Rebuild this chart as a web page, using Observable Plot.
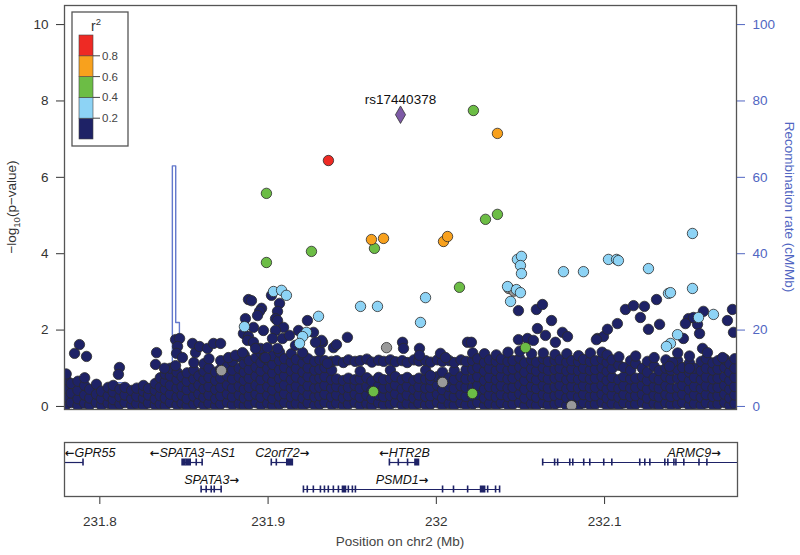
<!DOCTYPE html>
<html><head><meta charset="utf-8">
<script src="https://cdn.jsdelivr.net/npm/d3@7"></script>
<script src="https://cdn.jsdelivr.net/npm/@observablehq/plot@0.6"></script>
<style>
body{margin:0;background:#fff;}
#wrap{position:relative;width:800px;height:555px;font-family:Arial,"Liberation Sans",Helvetica,sans-serif;}
#wrap svg{position:absolute;left:0;overflow:visible;}
</style></head><body><div id="wrap"></div>
<script>
// ---------- DATA (positions in kb on chr2, values as -log10 p) ----------
const windowKb = [231779, 232179];
const logpTicks = [0, 2, 4, 6, 8, 10];
const posTicks = [231.8, 231.9, 232, 232.1];
const r2Breaks = [0.2, 0.4, 0.6, 0.8];
const r2Colors = ["#1e2266", "#8dd3f5", "#6cbd45", "#f8a11d", "#ee2a24"];
const grayColor = "#9a9a9a";
const leadColor = "#7d5aa6";

const leadSnp = [{name: "rs17440378", kb: 231979, logp: 7.64}];
const redPts = [[231936.1, 6.44]];
const orangePts = [[232036.7, 7.15], [231961.7, 4.37], [231968.9, 4.40], [232004.6, 4.32], [232007, 4.45]];
const greenPts = [[231899.2, 5.58], [232022.4, 7.75], [232029.6, 4.90], [232036.7, 5.03], [231899.2, 3.77],
  [231926, 4.06], [231963.5, 4.14], [232014.1, 3.12], [232053.4, 1.54], [232021.8, 0.34], [231962.9, 0.39]];
const lightbluePts = [[231903.4, 3.01], [231908.2, 3.04], [231911.1, 2.91], [231930.2, 2.36], [231886.1, 2.09],
  [231923, 1.94], [231920.7, 1.83], [231918.9, 1.65], [231955.2, 2.62], [231965.3, 2.62], [231990.9, 2.2],
  [231993.9, 2.85], [232048.6, 3.85], [232051, 3.93], [232050.4, 3.69], [232051, 3.48], [232042.7, 3.14],
  [232048, 3.06], [232050.4, 2.98], [232044.5, 2.75], [232076, 3.53], [232087.9, 3.53], [232102.8, 3.85],
  [232107.6, 3.85], [232108.7, 3.82], [232126.6, 3.61], [232152.8, 4.53], [232152.8, 3.09], [232138.5, 2.96],
  [232139.7, 2.98], [232156.4, 2.33], [232165.3, 2.41], [232143.9, 1.88], [232139.7, 1.65], [232137.3, 1.57]];
const grayPts = [[231970.7, 1.54], [232004, 0.63], [232080.8, 0.02], [231872.4, 0.94], [232043.5, 3.09], [232046.5, 3.02]];
const navyHigh = [[231787.9,1.62],[231785,1.39],[231792.1,1.31],[231811.7,1.02],[231811.1,0.84],[231833.8,1.41],
  [231833.2,1.10],[231838.5,1.0],[231845.1,1.75],[231847.5,1.78],[231846.3,1.57],[231845.7,1.39],[231849.2,1.28],
  [231845.1,1.07],[231857,1.41],[231855.2,1.65],[231859.4,1.57],[231864.1,1.52],[231867.7,1.65],[231871.9,1.65],
  [231876.6,1.28],[231880.8,1.34],[231885,1.41],[231888.5,2.80],[231890.3,2.77],[231896.3,2.57],[231895.1,2.49],
  [231893.9,2.38],[231886.7,2.30],[231902.2,2.91],[231907,2.70],[231905.8,2.49],[231904.6,2.30],[231897.4,1.99],
  [231891.5,2.07],[231885.5,1.91],[231888.5,1.83],[231905.8,2.25],[231909.4,2.07],[231904.6,1.99],[231923.6,2.25],
  [231918.3,1.99],[231927.2,1.94],[231932.6,1.68],[231947.4,1.81],[231939.1,1.54],[231898,1.28],[231887.9,1.73],
  [231902.8,1.78],[231908.8,1.78],[231891.5,1.68],[231895.7,1.52],[231905.8,1.52],[231899.8,1.54],[231898.6,1.28],
  [231912.9,1.86],[231916.5,1.60],[231932,1.73],[231920.7,1.41],[231928.4,1.68],[231935.5,1.13],[231892.7,1.52],
  [231940.9,1.62],[231980.2,1.68],[231980.8,1.52],[231990.3,1.52],[231990.3,1.34],[232002.8,1.39],[232005.8,1.28],
  [232018.9,1.68],[231996.8,0.81],[232021.2,1.68],[232049.2,2.51],[232059.9,2.54],[232063.5,2.67],[232068.9,2.25],
  [232060.5,2.04],[232075.4,1.94],[232078.4,1.83],[232049.2,1.75],[232054.6,1.78],[232058.1,1.73],[232065.3,1.86],
  [232071.2,1.68],[232096.2,1.78],[232099.8,1.83],[232095.6,1.75],[232102.2,2.02],[232131.4,2.80],[232112.9,2.54],
  [232117.7,2.64],[232124.2,2.62],[232121.8,2.33],[232108.1,2.17],[232150.4,2.30],[232148.6,2.17],[232159.3,2.49],
  [232155.8,2.15],[232153.4,2.33],[232126.6,2.02],[232133.2,2.15],[232173.6,2.25],[232177.2,1.94],[232176.6,2.54],
  [232157,1.91],[232147.4,1.78],[232158.8,1.52],[232161.7,1.41],[232170.7,1.28],[232140.9,1.15],[232139.1,1.05],[232151,1.0]];
// dense low-significance SNPs: [position kb, -log10 p values ...]
const navyCols = [
  [231780,.05,.25,.48,.7,.85],[231783,.1,.35,.6],[231787,.02,.2,.42,.66],[231791,.08,.3,.55,.75],[231794,.04,.22,.45],
  [231798,.1,.32,.58],[231801,.03,.2,.4],[231805,.08,.28,.5],[231808,.02,.18,.38,.55],[231812,.06,.25,.45],
  [231815,.1,.3,.5],[231819,.03,.2,.42],[231822,.07,.27,.48],[231826,.02,.22,.4,.55],[231829,.09,.3,.47],
  [231833,.04,.2,.42,.6],[231836,.06,.28,.5,.75],[231839,.02,.22,.45,.65,.85],[231842,.1,.32,.55,.8,1.0],
  [231846,.04,.25,.48,.7,.9],[231849,.08,.3,.52,.78],[231852,.02,.2,.44,.66,.88],[231856,.06,.27,.5,.72,.95,1.15],
  [231859,.1,.33,.56,.8],[231862,.03,.24,.46,.7,.92,1.12],[231865,.08,.3,.52,.76,1.0,1.25],[231869,.02,.2,.44,.68,.9],
  [231872,.06,.28,.5,.74,.98,1.2],[231876,.1,.33,.56,.8,1.05],[231879,.04,.25,.48,.72,.95,1.18],
  [231883,.07,.3,.53,.77,1.0,1.3],[231886,.02,.22,.45,.68,.9,1.12,1.35],[231889,.06,.28,.5,.74,.97,1.2],
  [231893,.1,.32,.55,.8,1.03,1.28],[231896,.03,.24,.47,.7,.93,1.15,1.4],[231900,.08,.3,.52,.76,1.0,1.22],
  [231903,.02,.2,.43,.66,.88,1.1,1.33],[231907,.06,.27,.5,.73,.96,1.2,1.42],[231910,.1,.33,.56,.8,1.02,1.25],
  [231914,.04,.25,.48,.7,.93,1.16,1.38],[231917,.07,.3,.53,.77,1.0,1.23],[231921,.02,.22,.45,.68,.9,1.14,1.36],
  [231924,.09,.31,.54,.78,1.01,1.25],[231928,.03,.25,.48,.72,.95,1.18],[231931,.06,.28,.5,.74,.97,1.22,1.45],
  [231934,.1,.32,.55,.78,1.02,1.2],[231938,.04,.25,.48,.7,.95,1.18],[231941,.08,.3,.52,.72,1.2],
  [231945,.02,.22,.45,.68,1.15],[231948,.06,.28,.5,.74,1.22],[231952,.1,.32,.55,.7,1.18],
  [231955,.03,.24,.47,.72,.92,1.2],[231959,.07,.29,.52,.75,1.24],[231962,.02,.2,.42,.66,1.16],
  [231966,.09,.3,.54,.76,1.21],[231969,.04,.26,.48,.7,1.18],[231973,.06,.28,.5,.73,.95,1.22],
  [231976,.1,.33,.56,.78,1.17],[231980,.03,.24,.46,.7,1.2],[231983,.07,.3,.53,.76,1.15],[231987,.02,.22,.45,.68,1.22],
  [231990,.08,.3,.52,.74,1.19],[231994,.04,.26,.48,.72,.95,1.2],[231997,.06,.28,.5,.7,1.16],
  [232001,.1,.32,.55,.78,1.22],[232004,.02,.22,.44,.68,.9,1.18],[232008,.07,.3,.52,.75,1.2],
  [232011,.03,.25,.47,.7,.94,1.15],[232015,.09,.31,.54,.78,1.22],[232018,.04,.26,.5,.72,.96,1.18],
  [232022,.06,.28,.5,.74,.97,1.2,1.4],[232025,.1,.32,.55,.78,1.02,1.25],[232029,.02,.22,.45,.68,.92,1.15,1.38],
  [232032,.07,.3,.52,.76,1.0,1.22],[232036,.03,.25,.48,.7,.94,1.18,1.35],[232039,.09,.31,.54,.78,1.01,1.24],
  [232043,.04,.26,.48,.72,.95,1.18,1.42],[232046,.06,.28,.5,.74,.98,1.2],[232050,.1,.33,.56,.8,1.03,1.26,1.45],
  [232053,.02,.22,.45,.68,.9,1.14],[232057,.07,.3,.52,.76,.99,1.22,1.38],[232060,.03,.24,.47,.7,.93,1.16],
  [232064,.09,.31,.54,.78,1.01,1.25,1.4],[232067,.04,.26,.48,.72,.95,1.18],[232071,.06,.28,.51,.74,.97,1.2,1.36],
  [232074,.1,.32,.55,.78,1.0,1.22],[232078,.02,.23,.46,.7,.93,1.16,1.38],[232081,.07,.29,.52,.75,.98,1.2],
  [232085,.03,.25,.48,.71,.94,1.17,1.33],[232088,.09,.31,.54,.77,1.0,1.23],[232092,.04,.26,.49,.72,.95,1.18,1.4],
  [232095,.06,.28,.5,.74,.97,1.2],[232099,.1,.32,.55,.78,1.01,1.24,1.42],[232102,.02,.22,.45,.68,.92,1.15,1.35],
  [232105,.07,.3,.52,.76,1.0,1.22],[232109,.03,.24,.47,.7,1.08,1.3],[232112,.09,.31,.54,.78,1.02],
  [232116,.04,.26,.48,.72,.95,1.2],[232119,.06,.28,.5,.74,1.12,1.32],[232123,.1,.32,.55,.78,1.0],
  [232126,.02,.22,.45,.68,.9,1.18],[232130,.07,.29,.52,.75,1.05,1.28],[232133,.03,.25,.48,.7,.94],
  [232137,.09,.31,.54,.78,1.0,1.22],[232140,.04,.26,.48,.72,.95],[232144,.06,.28,.5,.74,.97,1.2,1.4],
  [232147,.1,.32,.55,.78,1.02],[232151,.02,.22,.45,.68,.9,1.14,1.32],[232154,.07,.3,.52,.76,1.0],
  [232158,.03,.24,.47,.7,.93,1.18],[232161,.09,.31,.54,.77,1.0,1.25],[232165,.04,.26,.48,.72,.95,1.14],
  [232168,.06,.28,.5,.74,.98,1.2],[232172,.1,.32,.55,.78,1.02,1.24],[232175,.02,.22,.45,.68,.9,1.12],
  [232178,.07,.3,.52,.76,1.0,1.25]
];
// recombination rate (cM/Mb), step function starting at each position
const recombKb = [231770, 231808, 231815, 231841, 231843.2, 231845.2, 231847.4, 231849.5, 231900, 231960, 232010, 232060, 232120, 232179];
const recombRate = [0.4, 6.2, 1.2, 7.5, 63, 22, 4.5, 0.6, 0.4, 0.3, 0.2, 0.3, 0.2, 0.2];
// genes: name, strand, row, start, end (kb), exons [start, end]
const genes = [
  {name: "GPR55", strand: "-", row: 1, start: 231772, end: 231790.3, exons: [[231790.3, 231790.3]]},
  {name: "SPATA3\u2212AS1", strand: "-", row: 1, start: 231849.2, end: 231861.1,
    exons: [[231849.2, 231850.9], [231851.7, 231854], [231857.6, 231857.6], [231861.1, 231861.1]]},
  {name: "C2orf72", strand: "+", row: 1, start: 231902.2, end: 231914.7,
    exons: [[231902.2, 231902.2], [231905.2, 231905.2], [231911.4, 231914.7]]},
  {name: "HTR2B", strand: "-", row: 1, start: 231972.4, end: 231989.7,
    exons: [[231972.4, 231972.4], [231977.7, 231977.7], [231983.2, 231983.2], [231987.6, 231989.7]]},
  {name: "ARMC9", strand: "+", row: 1, start: 232063.5, end: 232243,
    exons: [[232063.5,232063.5],[232070.6,232070.6],[232072.4,232072.4],[232079.6,232079.6],[232081.4,232081.4],
      [232087.9,232087.9],[232091.5,232091.5],[232099.8,232099.8],[232104.6,232104.6],[232121.2,232121.2],
      [232124.2,232124.2],[232127.2,232127.2],[232136.1,232136.1],[232137.9,232137.9],[232141.5,232141.5],
      [232142.7,232142.7],[232147.4,232147.4],[232156.4,232156.4],[232161.1,232161.1]]},
  {name: "SPATA3", strand: "+", row: 2, start: 231860.5, end: 231872.4,
    exons: [[231860.5,231860.5],[231863.5,231863.5],[231866.5,231866.5],[231868.3,231868.3],[231872.4,231872.4]]},
  {name: "PSMD1", strand: "+", row: 2, start: 231921.3, end: 232037.9,
    exons: [[231921.3,231921.3],[231923.6,231923.6],[231927.2,231927.2],[231931.4,231931.4],[231933.8,231933.8],
      [231936.1,231936.1],[231939.1,231939.1],[231942.1,231942.1],[231944.5,231946.3],[231948,231948],
      [231950.4,231950.4],[231952.2,231952.2],[232004,232004],[232010.5,232010.5],[232018.9,232018.9],
      [232026.6,232029],[232030.8,232030.8],[232035.5,232035.5],[232037.9,232037.9]]}
];

// ---------- BUILD ----------
const font = "Arial, 'Liberation Sans', Helvetica, sans-serif";
const axisBlue = "#5166c2";
const lineBlue = "#6378cc";
const mb = kb => kb / 1000;
const xDomain = windowKb.map(mb);
const toPts = arr => arr.map(([kb, lp]) => ({pos: mb(kb), logp: lp}));
const navyPts = navyCols.flatMap(([kb, ...vals]) => vals.map(v => ({pos: mb(kb), logp: v})))
  .concat(toPts(navyHigh));
const recomb = recombKb.map((kb, i) => ({pos: mb(kb), rate: recombRate[i]}));
const dotOpts = (fill) => ({x: "pos", y: "logp", r: 5.2, fill, stroke: "#2b2b2b", strokeWidth: 0.8, clip: true});

const main = Plot.plot({
  width: 800, height: 430,
  marginLeft: 64, marginRight: 64, marginTop: 5, marginBottom: 21,
  style: {fontFamily: font, fontSize: "13px", color: "#333", background: "transparent"},
  x: {domain: xDomain, axis: null},
  y: {domain: [-0.08, 10.5], axis: null},
  marks: [
    Plot.axisY({anchor: "left", ticks: logpTicks, tickSize: 8, tickPadding: 8, label: null, fontSize: 13.5}),
    Plot.axisY({anchor: "right", ticks: logpTicks, tickFormat: d => d * 10, tickSize: 8, tickPadding: 8,
      label: null, color: axisBlue, fontSize: 13.5}),
    Plot.line(recomb, {x: "pos", y: d => d.rate / 10, curve: "step-after", stroke: lineBlue, strokeWidth: 1.4, clip: true}),
    Plot.dot(navyPts, dotOpts(r2Colors[0])),
    Plot.dot(toPts(grayPts), dotOpts(grayColor)),
    Plot.dot(toPts(lightbluePts), dotOpts(r2Colors[1])),
    Plot.dot(toPts(greenPts), dotOpts(r2Colors[2])),
    Plot.dot(toPts(orangePts), dotOpts(r2Colors[3])),
    Plot.dot(toPts(redPts), dotOpts(r2Colors[4])),
    Plot.dot(leadSnp, {x: d => mb(d.kb), y: "logp", symbol: "diamond", r: 5.3, fill: leadColor, stroke: "#333", strokeWidth: 0.8}),
    Plot.text(leadSnp, {x: d => mb(d.kb), y: "logp", text: "name", dy: -15, fontSize: 13.5, fill: "#111"}),
    Plot.frame({stroke: "#555", strokeWidth: 1.3})
  ]
});
main.style.top = "0px";
document.getElementById("wrap").appendChild(main);

// axis titles and r2 legend
const ms = d3.select(main);
const lt = ms.append("text").attr("transform", "translate(16,207) rotate(-90)")
  .attr("text-anchor", "middle").attr("font-size", 13.5).attr("fill", "#333").attr("font-family", font);
lt.append("tspan").text("\u2212log");
lt.append("tspan").attr("font-size", 9.5).attr("dy", 4).text("10");
lt.append("tspan").attr("dy", -4).text("(p\u2212value)");
ms.append("text").attr("transform", "translate(785,207) rotate(90)")
  .attr("text-anchor", "middle").attr("font-size", 13.5).attr("fill", axisBlue).attr("font-family", font)
  .text("Recombination rate (cM/Mb)");

const lg = ms.append("g").attr("font-family", font);
lg.append("rect").attr("x", 72).attr("y", 12).attr("width", 56).attr("height", 134)
  .attr("fill", "white").attr("stroke", "#555").attr("stroke-width", 1.3);
const lt2 = lg.append("text").attr("x", 96).attr("y", 31).attr("text-anchor", "middle").attr("font-size", 14).attr("fill", "#333");
lt2.append("tspan").text("r");
lt2.append("tspan").attr("font-size", 9.5).attr("dy", -6).text("2");
const ly = d3.scaleLinear().domain([0, 1]).range([139, 35]);
const bins = r2Colors.map((c, i) => ({c, lo: i * 0.2, hi: (i + 1) * 0.2}));
lg.selectAll("rect.bin").data(bins).join("rect").attr("class", "bin")
  .attr("x", 79).attr("width", 14).attr("y", d => ly(d.hi)).attr("height", d => ly(d.lo) - ly(d.hi))
  .attr("fill", d => d.c).attr("stroke", "#444").attr("stroke-width", 0.6);
lg.selectAll("line.t").data(r2Breaks).join("line").attr("class", "t")
  .attr("x1", 93).attr("x2", 100).attr("y1", d => ly(d)).attr("y2", d => ly(d)).attr("stroke", "#444");
lg.selectAll("text.t").data(r2Breaks).join("text").attr("class", "t")
  .attr("x", 102).attr("y", d => ly(d)).attr("dy", "0.35em").attr("text-anchor", "start")
  .attr("font-size", 11.5).attr("fill", "#444")
  .text(d => d.toFixed(1));

// ---------- GENE PANEL ----------
const pxPerMb = 672 / 0.4;
const geneLabels = genes.map(g => {
  const label = g.strand === "-" ? "\u2190" + g.name : g.name + "\u2192";
  const hw = (label.length * 3.6 + 4) / pxPerMb;
  const c = (mb(g.start) + mb(g.end)) / 2;
  return {label, row: g.row, x: Math.max(xDomain[0] + hw, Math.min(xDomain[1] - hw, c))};
});
const exons = genes.flatMap(g => g.exons.map(([s, e]) => ({s: mb(s), e: mb(e), row: g.row})));
const navy = r2Colors[0];
const genePlot = Plot.plot({
  width: 800, height: 125,
  marginLeft: 64, marginRight: 63, marginTop: 12, marginBottom: 59,
  style: {fontFamily: font, fontSize: "13.5px", color: "#333", background: "transparent"},
  x: {domain: xDomain, axis: null},
  y: {domain: [0.259, 2.259], reverse: true, axis: null},
  marks: [
    Plot.ruleY(genes, {y: "row", x1: d => mb(d.start), x2: d => mb(d.end), stroke: navy, strokeWidth: 1.2, clip: true}),
    Plot.rect(exons, {x1: "s", x2: "e", y1: d => d.row - 0.13, y2: d => d.row + 0.13, fill: navy,
      insetLeft: -0.8, insetRight: -0.8, clip: true}),
    Plot.text(geneLabels, {x: "x", y: "row", text: "label", dy: -10, fontSize: 12.5, fontStyle: "italic", fill: "#111"}),
    Plot.axisX({anchor: "bottom", ticks: posTicks, tickSize: 8, tickPadding: 12, label: null,
      tickFormat: d => String(Math.round(d * 10) / 10), fontSize: 13.5}),
    Plot.frame({stroke: "#555", strokeWidth: 1.3})
  ]
});
genePlot.style.top = "430px";
document.getElementById("wrap").appendChild(genePlot);
// render strand arrows in a font with a bolder arrow glyph
d3.select(genePlot).selectAll("text").each(function () {
  const t = this.textContent;
  if (!/[\u2190\u2192]/.test(t)) return;
  const sel = d3.select(this);
  sel.text(null);
  for (const part of t.split(/([\u2190\u2192])/).filter(s => s)) {
    const ts = sel.append("tspan").text(part);
    if (/[\u2190\u2192]/.test(part)) ts.attr("font-family", "'DejaVu Sans', sans-serif").attr("font-style", "normal").attr("font-weight", "bold").attr("font-size", 11.5);
  }
});
d3.select(genePlot).append("text").attr("x", 400).attr("y", 116).attr("text-anchor", "middle")
  .attr("font-size", 13.5).attr("fill", "#444").attr("font-family", font).text("Position on chr2 (Mb)");
</script></body></html>
